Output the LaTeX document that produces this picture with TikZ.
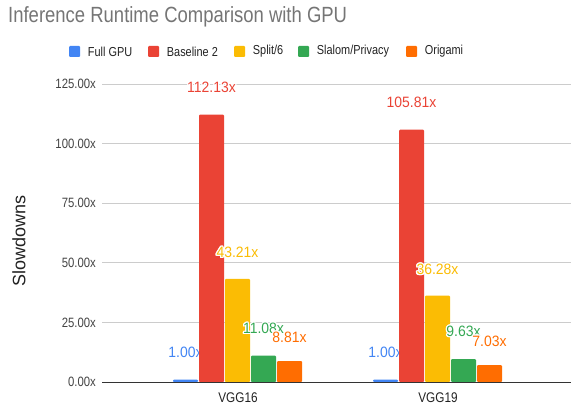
\documentclass[tikz,border=0pt]{standalone}
\usepackage{fontspec}
\setmainfont{Liberation Sans}[FakeStretch=0.84]
\newfontfamily\valfont{Liberation Sans}[FakeStretch=0.93]
\newfontfamily\axfont{Liberation Sans}
\usepackage{contour}
\contourlength{1.2pt}
\definecolor{gblue}{HTML}{4285F4}
\definecolor{gred}{HTML}{EA4335}
\definecolor{gyellow}{HTML}{FBBC04}
\definecolor{ggreen}{HTML}{34A853}
\definecolor{gorange}{HTML}{FF6D01}
\definecolor{titlegray}{HTML}{757575}
\definecolor{labgray}{HTML}{222222}
\definecolor{tickgray}{HTML}{444444}
\definecolor{gridgray}{HTML}{CCCCCC}
\definecolor{axisgray}{HTML}{333333}
\usetikzlibrary{positioning}

\begin{document}
\begin{tikzpicture}[x=1pt, y=-1pt,
  grid/.style={draw=gridgray, line width=0.8pt},
  axisline/.style={draw=axisgray, line width=1pt},
  tick/.style={anchor=east, inner sep=0pt, text=tickgray,
               font=\fontsize{13.5}{14}\selectfont},
  key/.style={minimum size=11pt, inner sep=0pt, rounded corners=1pt},
  keytext/.style={inner sep=0pt, text=labgray, font=\fontsize{13}{14}\selectfont},
  val/.style={inner sep=0pt, font=\valfont\fontsize{15}{16}\selectfont},
  cat/.style={inner sep=0pt, text=labgray, font=\fontsize{14}{15}\selectfont}
]
  \useasboundingbox (0,0) rectangle (573,412);

  % title
  \node[anchor=base west, inner sep=0pt, text=titlegray,
        font=\fontsize{22}{24}\selectfont] (title) at (8,23)
    {Inference Runtime Comparison with GPU};

  % legend
  \foreach \c/\kx/\t [count=\i] in {gblue/69/{Full GPU}, gred/148/{Baseline 2},
      gyellow/234/{Split/6}, ggreen/298/{Slalom/Privacy}, gorange/406/{Origami}}{
    \node[key, fill=\c] (key\i) at (\kx+5.5,51.5) {};
    \node[keytext, right=7.5pt of key\i] (keylbl\i) {\t};
  }

  % grid and ticks
  \foreach \v in {25,50,75,100,125}{
    \draw[grid] (102,382-2.384*\v) -- (571,382-2.384*\v);
  }
  \foreach \v in {0,25,50,75,100,125}{
    \node[tick] (tick\v) at (96,382-2.384*\v) {\v.00x};
  }

  \node[rotate=90, inner sep=0pt, text=labgray,
        font=\axfont\fontsize{18}{20}\selectfont] (ytitle) at (19,241) {Slowdowns};

  % VGG16 bars
  \foreach \v/\c/\ly [count=\i] in {1.00/gblue/353, 112.13/gred/88,
      43.21/gyellow/253, 11.08/ggreen/329, 8.81/gorange/338}{
    \fill[\c, rounded corners=1pt] (173+26*\i-26,382) rectangle ++(25,-2.384*\v);
    \node[val, text=\c] (lbla\i) at (185.5+26*\i-26,\ly) {\contour{white}{\v x}};
  }
  % VGG19 bars
  \foreach \v/\c/\ly [count=\i] in {1.00/gblue/353, 105.81/gred/103,
      36.28/gyellow/270, 9.63/ggreen/332, 7.03/gorange/342}{
    \fill[\c, rounded corners=1pt] (373+26*\i-26,382) rectangle ++(25,-2.384*\v);
    \node[val, text=\c] (lblb\i) at (385.5+26*\i-26,\ly) {\contour{white}{\v x}};
  }
  \draw[axisline] (102,382) -- (571,382);

  \node[cat] (vgg16) at (238,398) {VGG16};
  \node[cat] (vgg19) at (438,398) {VGG19};
\end{tikzpicture}
\end{document}
